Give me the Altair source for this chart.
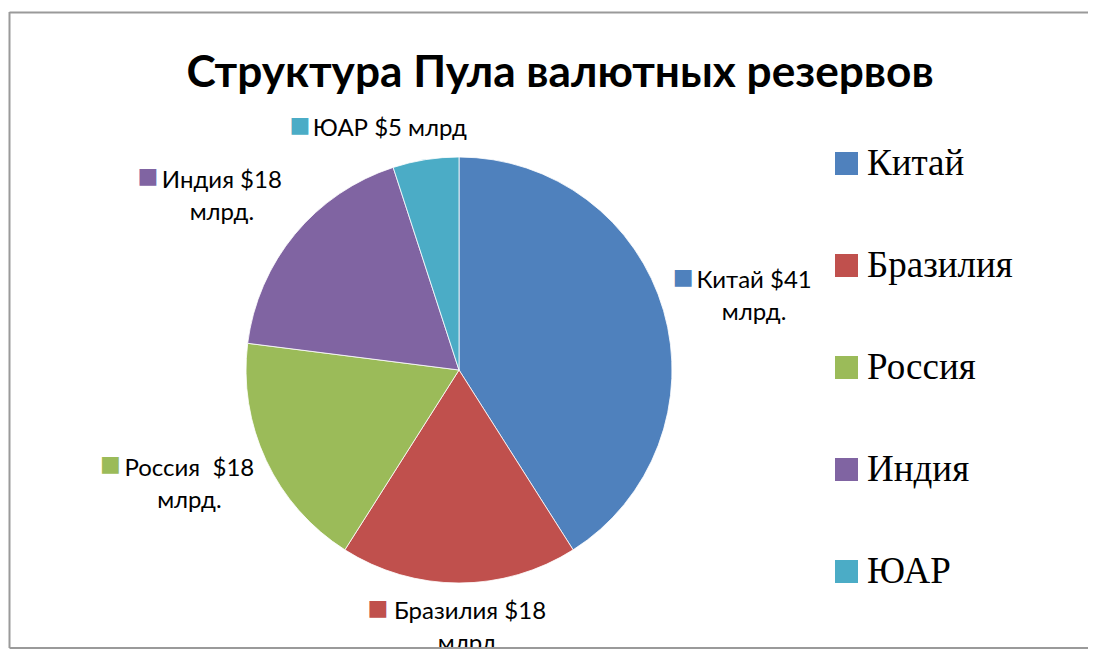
import altair as alt
import pandas as pd

categories = ["Китай", "Бразилия", "Россия", "Индия", "ЮАР"]
values = [41, 18, 18, 18, 5]
labels = ["Китай $41\nмлрд.", "Бразилия $18\nмлрд.", "Россия \u00a0$18\nмлрд.", "Индия $18\nмлрд.", "ЮАР $5 млрд"]
colors = ["#4F81BD", "#C0504D", "#9BBB59", "#8064A2", "#4BACC6"]
title_text = "Структура Пула валютных резервов"

df = pd.DataFrame({"cat": categories, "value": values, "label": labels, "order": list(range(len(categories)))})
TOTAL = sum(values)

CX, CY, R = 451, 362, 213
W, H = 1080, 641
LABEL_FONT = "Lato"
LABEL_SIZE = 24

theta_scale = alt.Scale(domain=[0, TOTAL], range=[0, 6.283185307179586])
color_scale = alt.Scale(domain=categories, range=colors)

pie = alt.Chart(df).mark_arc(outerRadius=R, stroke="white", strokeWidth=0.8).encode(
    theta=alt.Theta("value:Q", stack=True, scale=theta_scale),
    order=alt.Order("order:Q"),
    color=alt.Color(
        "cat:N", scale=color_scale, sort=categories,
        legend=alt.Legend(
            title=None, orient="none", legendX=820, legendY=137,
            symbolType="square", symbolSize=529, symbolStrokeWidth=0, symbolOpacity=1,
            labelFont="Liberation Serif", labelFontSize=37, labelColor="black",
            rowPadding=64, labelOffset=2, padding=0, labelLimit=0,
        ),
    ),
    x=alt.value(CX),
    y=alt.value(CY),
)


def mid_base(cat):
    return (
        alt.Chart(df)
        .transform_window(cum="sum(value)", frame=[None, 0], sort=[alt.SortField("order")])
        .transform_calculate(mid="datum.cum - datum.value / 2")
        .transform_filter(alt.datum.cat == cat)
    )


# (category, radius, dx, dy, square dx, square dy) -- anchor = centre of first line
label_specs = [
    ("Китай", 300, 7, -5, -71, -4.5),
    ("Бразилия", 242, 11, 0, -92, -4.5),
    ("Россия", 298, 0, -28, -79, -4.5),
    ("Индия", 300, -6, 2, -74, -4.5),
    ("ЮАР", 244, -31, 0, -90, -4.5),
]

layers = [pie]
for cat, r, dx, dy, sdx, sdy in label_specs:
    b = mid_base(cat)
    txt = b.mark_text(
        radius=r, dx=dx, dy=dy, font=LABEL_FONT, fontSize=LABEL_SIZE, color="black",
        align="center", baseline="middle", lineBreak="\n", lineHeight=32,
    ).encode(
        theta=alt.Theta("mid:Q", scale=theta_scale),
        text="label:N",
        x=alt.value(CX), y=alt.value(CY),
    )
    sq = b.mark_text(
        radius=r, dx=dx + sdx, dy=dy + sdy, font="DejaVu Sans", fontSize=22,
        align="center", baseline="middle",
    ).encode(
        theta=alt.Theta("mid:Q", scale=theta_scale),
        text=alt.value("■"),
        color=alt.Color("cat:N", scale=color_scale, sort=categories, legend=None),
        x=alt.value(CX), y=alt.value(CY),
    )
    layers += [txt, sq]

one = alt.Data(values=[{"t": title_text}])
title = alt.Chart(one).mark_text(
    font="Lato", fontWeight="bold", fontSize=44.2, color="black", align="center", baseline="alphabetic"
).encode(text="t:N", x=alt.value(552), y=alt.value(79))

border_color = "#9a9a9a"
left = alt.Chart(alt.Data(values=[{}])).mark_rule(color=border_color, strokeWidth=2).encode(
    x=alt.value(1.5), y=alt.value(4), y2=alt.value(640))
top = alt.Chart(alt.Data(values=[{}])).mark_rule(color=border_color, strokeWidth=2).encode(
    x=alt.value(1.5), x2=alt.value(W + 20), y=alt.value(4.5))
bottom = alt.Chart(alt.Data(values=[{}])).mark_rule(color=border_color, strokeWidth=2).encode(
    x=alt.value(1.5), x2=alt.value(W + 20), y=alt.value(640))

layers += [title, left, top, bottom]

chart = alt.layer(*layers).properties(
    width=W, height=H, autosize=alt.AutoSizeParams(type="none"), padding=0,
).configure_view(stroke=None).resolve_scale(color="shared")

chart.save("out.html", embed_options={"renderer": "svg", "actions": False})
